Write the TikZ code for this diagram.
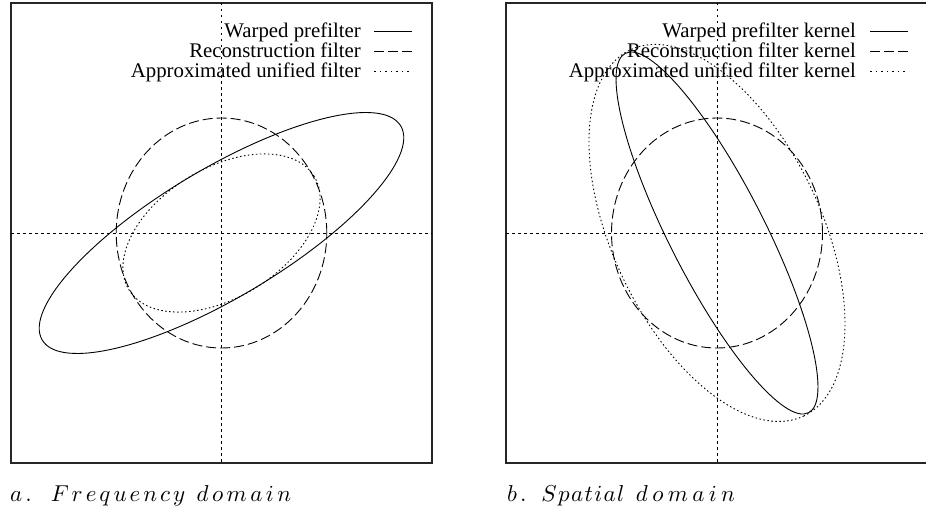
\documentclass[tikz,border=0pt]{standalone}
\usepackage{fontspec}
\setmainfont{Liberation Serif}
\newcommand\ka{\kern1.3pt}
\newcommand\kd{\kern1.5pt}
\newcommand\ks{\kern0.6pt}
\newcommand\ke{\kern1.9pt}
\tikzset{
  frame/.style={draw=black!85, line width=1.1pt},
  axisline/.style={line width=0.8pt, dash pattern=on 2.5pt off 3.5pt},
  solidcurve/.style={line width=0.9pt},
  dashcurve/.style={line width=0.9pt, dash pattern=on 10pt off 4pt},
  dotcurve/.style={line width=0.9pt, dash pattern=on 1.5pt off 2.5pt},
  legdot/.style={line width=0.9pt, dash pattern=on 1.5pt off 4pt},
  legtext/.style={anchor=base east, inner sep=0pt, font=\fontsize{20.8}{24}\selectfont},
  captext/.style={anchor=base west, inner sep=0pt, font=\fontsize{10}{12}\selectfont},
}
\begin{document}
\begin{tikzpicture}[x=1pt,y=-1pt]
\useasboundingbox (0,0) rectangle (926,511);
% ---------- panel a ----------
\coordinate (cA) at (221.5,233);
\draw[frame] (11,3) rectangle (432,463);
\coordinate (aL) at (11,233);  \coordinate (aR) at (432,233);
\coordinate (aT) at (221.5,3); \coordinate (aB) at (221.5,463);
\draw[axisline] (aL) -- (aR);
\draw[axisline] (aT) -- (aB);
\draw[dashcurve] (cA) ellipse [x radius=105.3pt, y radius=115pt];
\draw[solidcurve, rotate around={30.85:(cA)}] (cA) ellipse [x radius=208.8pt, y radius=64.3pt];
\draw[dotcurve, rotate around={31.5:(cA)}] (cA) ellipse [x radius=108.6pt, y radius=64.6pt];
% legend a
\node[legtext] (la1) at (361,37.7) {Warped prefilter};
\node[legtext] (la2) at (361,57.7) {Reconstruction filter};
\node[legtext] (la3) at (361,77.7) {Approximated unified filter};
\coordinate (la1s) at (374,31.7); \coordinate (la1e) at (412,31.7);
\coordinate (la2s) at (374,51.7); \coordinate (la2e) at (412,51.7);
\coordinate (la3s) at (374,71.7); \coordinate (la3e) at (412,71.7);
\draw[solidcurve] (la1s) -- (la1e);
\draw[dashcurve] (la2s) -- (la2e);
\draw[legdot] (la3s) -- (la3e);
\node[captext] (capA) at (10,501.5) {\scalebox{2.3}{$a\ka.\kern8.3pt F\ka r\ka e\ka q\ka u\ka e\ka n\ka c\ka y\kern5pt d\kd o\kd m\kd a\kd i\kd n$}};
% ---------- panel b ----------
\coordinate (cB) at (717,233);
\draw[frame] (506,3) rectangle (928,463);
\coordinate (bL) at (506,233);  \coordinate (bR) at (928,233);
\coordinate (bT) at (717,3); \coordinate (bB) at (717,463);
\draw[axisline] (bL) -- (bR);
\draw[axisline] (bT) -- (bB);
\draw[dashcurve] (cB) ellipse [x radius=105.5pt, y radius=115pt];
\draw[solidcurve, rotate around={-63:(cB)}] (cB) ellipse [x radius=201.7pt, y radius=47.7pt];
\draw[dotcurve, rotate around={-64.7:(cB)}] (cB) ellipse [x radius=202.6pt, y radius=104.3pt];
% legend b
\node[legtext] (lb1) at (856,37.7) {Warped prefilter kernel};
\node[legtext] (lb2) at (856,57.7) {Reconstruction filter kernel};
\node[legtext] (lb3) at (856,77.7) {Approximated unified filter kernel};
\coordinate (lb1s) at (870,31.7); \coordinate (lb1e) at (908,31.7);
\coordinate (lb2s) at (870,51.7); \coordinate (lb2e) at (908,51.7);
\coordinate (lb3s) at (870,71.7); \coordinate (lb3e) at (908,71.7);
\draw[solidcurve] (lb1s) -- (lb1e);
\draw[dashcurve] (lb2s) -- (lb2e);
\draw[legdot] (lb3s) -- (lb3e);
\node[captext] (capB) at (507,501.5) {\scalebox{2.3}{$b\ka.\kern6.5pt S\ks p\ks a\ks t\ks i\ks a\ks l\kern5pt d\ke o\ke m\ke a\ke i\ke n$}};
\end{tikzpicture}
\end{document}
